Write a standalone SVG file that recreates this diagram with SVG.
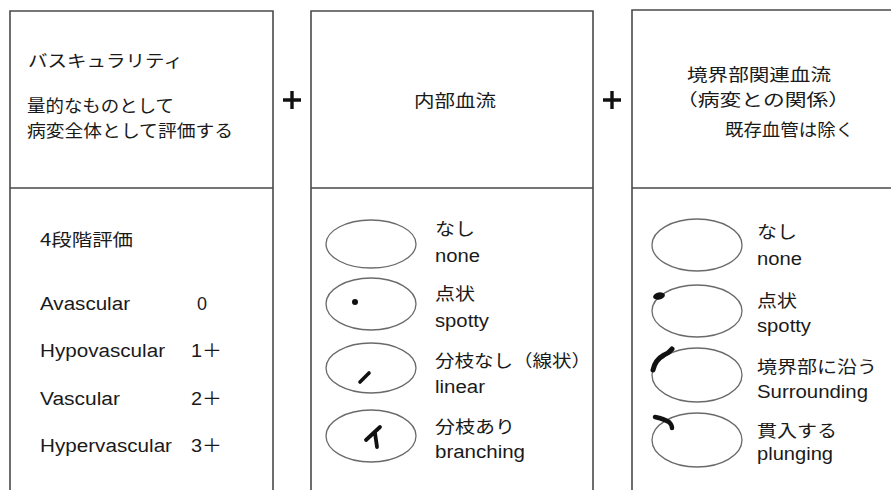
<svg xmlns="http://www.w3.org/2000/svg" width="891" height="490" viewBox="0 0 891 490">
  <style>
    .frame { fill: none; stroke: #4a4a4a; stroke-width: 1.6; }
    .oval { fill: none; stroke: #6a6a6a; stroke-width: 1.3; }
    .mark { fill: none; stroke: #111; stroke-linecap: round; stroke-linejoin: round; }
    .plus { stroke: #111; stroke-width: 3.4; }
    text { fill: #1a1a1a; font-family: "Liberation Sans", "Noto Sans CJK JP", sans-serif; }
    .jp { font-family: "Noto Sans CJK JP", sans-serif; font-size: 17px; }
    .en { font-size: 18px; }
  </style>
  <rect width="891" height="490" fill="#ffffff"/>

  <!-- Panel 1: vascularity grading -->
  <g id="vascularity">
    <path class="frame" d="M10,500 V11 H273 V500 M10,188 H273"/>
    <text class="jp" x="28" y="67" textLength="155" lengthAdjust="spacingAndGlyphs">バスキュラリティ</text>
    <text class="jp" x="27" y="112" textLength="147" lengthAdjust="spacingAndGlyphs">量的なものとして</text>
    <text class="jp" x="27" y="137" textLength="206" lengthAdjust="spacingAndGlyphs">病変全体として評価する</text>
    <text class="jp" x="40" y="246" textLength="93" lengthAdjust="spacingAndGlyphs">4段階評価</text>
    <text class="en" x="40" y="310" textLength="90" lengthAdjust="spacingAndGlyphs">Avascular</text>
    <text class="en" x="197" y="310">0</text>
    <text class="en" x="40" y="357" textLength="125" lengthAdjust="spacingAndGlyphs">Hypovascular</text>
    <text class="en" x="191" y="357" textLength="31" lengthAdjust="spacingAndGlyphs">1＋</text>
    <text class="en" x="40" y="405" textLength="80" lengthAdjust="spacingAndGlyphs">Vascular</text>
    <text class="en" x="191" y="405" textLength="31" lengthAdjust="spacingAndGlyphs">2＋</text>
    <text class="en" x="40" y="452" textLength="132" lengthAdjust="spacingAndGlyphs">Hypervascular</text>
    <text class="en" x="191" y="452" textLength="31" lengthAdjust="spacingAndGlyphs">3＋</text>
  </g>

  <!-- Operators between panels -->
  <g id="operators">
    <path class="plus" d="M283,100 H301 M292,91 V109"/>
    <path class="plus" d="M603,100 H621 M612,91 V109"/>
  </g>

  <!-- Panel 2: internal flow -->
  <g id="internal-flow">
    <path class="frame" d="M311,500 V11 H593 V500 M311,188 H593"/>
    <text class="jp" x="414" y="107" font-size="18" textLength="82" lengthAdjust="spacingAndGlyphs">内部血流</text>

    <ellipse class="oval" cx="371" cy="244" rx="45" ry="24"/>
    <text class="jp" x="435" y="235" textLength="40" lengthAdjust="spacingAndGlyphs">なし</text>
    <text class="en" x="435" y="262" textLength="45" lengthAdjust="spacingAndGlyphs">none</text>

    <ellipse class="oval" cx="371" cy="304" rx="45" ry="26"/>
    <circle cx="355" cy="302" r="3" fill="#111"/>
    <text class="jp" x="435" y="300" textLength="40" lengthAdjust="spacingAndGlyphs">点状</text>
    <text class="en" x="435" y="327" textLength="54" lengthAdjust="spacingAndGlyphs">spotty</text>

    <ellipse class="oval" cx="371" cy="368" rx="45" ry="25"/>
    <path class="mark" stroke-width="3.6" d="M360,382 L369,373"/>
    <text class="jp" x="435" y="367" textLength="156" lengthAdjust="spacingAndGlyphs">分枝なし（線状）</text>
    <text class="en" x="435" y="393" textLength="50" lengthAdjust="spacingAndGlyphs">linear</text>

    <ellipse class="oval" cx="371" cy="436" rx="45" ry="26"/>
    <path class="mark" stroke-width="3.8" d="M366,440 L380,427 M375,433 L377,447"/>
    <text class="jp" x="435" y="433" textLength="80" lengthAdjust="spacingAndGlyphs">分枝あり</text>
    <text class="en" x="435" y="458" textLength="90" lengthAdjust="spacingAndGlyphs">branching</text>
  </g>

  <!-- Panel 3: margin-related flow -->
  <g id="marginal-flow">
    <path class="frame" d="M632,500 V10 H900 M632,188 H900"/>
    <text class="jp" x="687" y="81" textLength="144" lengthAdjust="spacingAndGlyphs">境界部関連血流</text>
    <text class="jp" x="676" y="106" textLength="174" lengthAdjust="spacingAndGlyphs">（病変との関係）</text>
    <text class="jp" x="725" y="136" font-size="16" textLength="129" lengthAdjust="spacingAndGlyphs">既存血管は除く</text>

    <ellipse class="oval" cx="697" cy="245" rx="45" ry="26"/>
    <text class="jp" x="757" y="238" textLength="40" lengthAdjust="spacingAndGlyphs">なし</text>
    <text class="en" x="757" y="265" textLength="45" lengthAdjust="spacingAndGlyphs">none</text>

    <ellipse class="oval" cx="697" cy="311" rx="45" ry="26"/>
    <ellipse cx="659" cy="296" rx="6" ry="3.6" fill="#111" transform="rotate(-12 659 296)"/>
    <text class="jp" x="757" y="307" textLength="40" lengthAdjust="spacingAndGlyphs">点状</text>
    <text class="en" x="757" y="332" textLength="54" lengthAdjust="spacingAndGlyphs">spotty</text>

    <ellipse class="oval" cx="697" cy="375" rx="45" ry="27"/>
    <path class="mark" stroke-width="5" d="M653,370 Q655,360 664,355 Q669,353 672,349"/>
    <text class="jp" x="757" y="373" textLength="120" lengthAdjust="spacingAndGlyphs">境界部に沿う</text>
    <text class="en" x="757" y="398" textLength="111" lengthAdjust="spacingAndGlyphs">Surrounding</text>

    <ellipse class="oval" cx="697" cy="440" rx="45" ry="27"/>
    <path class="mark" stroke-width="4.5" d="M655,417 Q664,419 669,422 Q672,425 672,428"/>
    <text class="jp" x="757" y="437" textLength="80" lengthAdjust="spacingAndGlyphs">貫入する</text>
    <text class="en" x="757" y="460" textLength="76" lengthAdjust="spacingAndGlyphs">plunging</text>
  </g>
</svg>
